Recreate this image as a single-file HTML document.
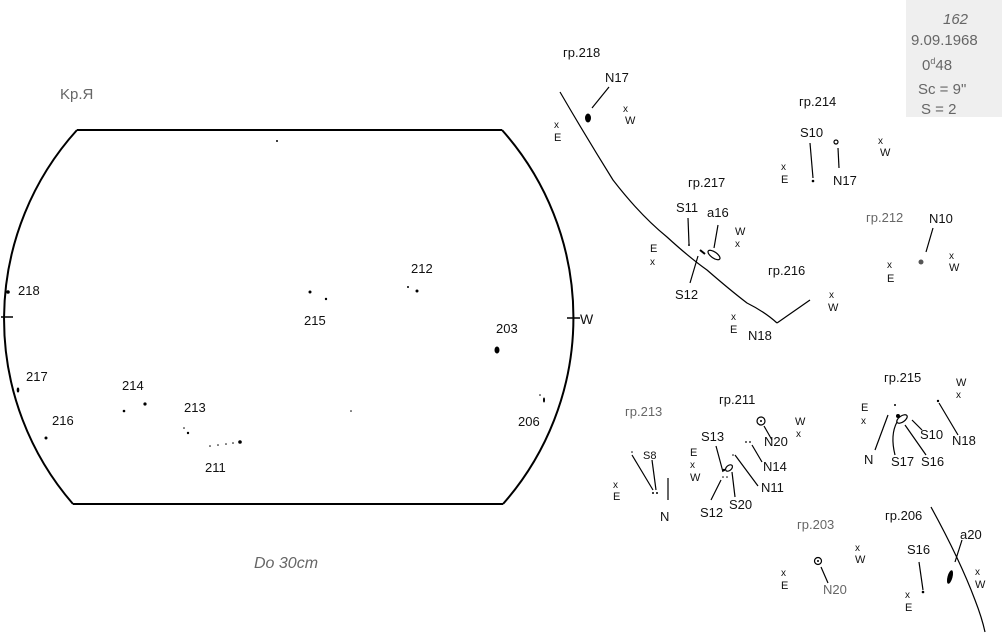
<!DOCTYPE html>
<html><head><meta charset="utf-8"><style>
html,body{margin:0;padding:0;background:#fff;}
svg{display:block;}
text{font-family:"Liberation Sans",sans-serif;fill:#111;}
.s{font-size:13px;}
.g{fill:#666;}
</style></head><body>
<svg width="1002" height="635" viewBox="0 0 1002 635" xmlns="http://www.w3.org/2000/svg">
<rect x="906" y="0" width="96" height="117" fill="#efefef"/>
<g font-size="15" class="g">
<text x="943" y="24" class="g" font-style="italic">162</text>
<text x="911" y="45" class="g">9.09.1968</text>
<text x="922" y="70" class="g">0<tspan font-size="9" dy="-6">d</tspan><tspan dy="6">48</tspan></text>
<text x="918" y="94" class="g">Sc = 9"</text>
<text x="921" y="114" class="g">S  = 2</text>
</g>
<text x="60" y="99" font-size="15" class="g">Kp.Я</text>
<text x="254" y="568" font-size="16" class="g" font-style="italic">Do  30cm</text>

<g fill="none" stroke="#000" stroke-width="2">
<path d="M77 130 L502 130"/>
<path d="M73 504 L503 504"/>
<path d="M77 130 A 282 282 0 0 0 73 504"/>
<path d="M502 130 A 282 282 0 0 1 503 504"/>
</g>
<g stroke="#000" stroke-width="1.5">
<line x1="1" y1="317" x2="13" y2="317"/>
<line x1="567" y1="318" x2="580" y2="318"/>
</g>
<text x="580" y="324" font-size="14">W</text>
<g class="s" font-size="13">
<text x="18" y="295">218</text><text x="26" y="381">217</text><text x="52" y="425">216</text>
<text x="122" y="390">214</text><text x="184" y="412">213</text><text x="205" y="472">211</text>
<text x="304" y="325">215</text><text x="411" y="273">212</text><text x="496" y="333">203</text>
<text x="518" y="426">206</text>
</g>
<g fill="#000">
<circle cx="8" cy="292" r="1.8"/><ellipse cx="18" cy="390" rx="1.3" ry="2.5"/><circle cx="46" cy="438" r="1.5"/>
<circle cx="124" cy="411" r="1.3"/><circle cx="145" cy="404" r="1.6"/>
<circle cx="184" cy="428" r="0.8"/><circle cx="188" cy="433" r="1.2"/>
<circle cx="240" cy="442" r="1.8"/><circle cx="210" cy="446" r="0.8"/><circle cx="218" cy="445" r="0.8"/><circle cx="226" cy="444" r="0.8"/><circle cx="233" cy="443" r="0.8"/>
<circle cx="310" cy="292" r="1.5"/><circle cx="326" cy="299" r="1.2"/><circle cx="408" cy="287" r="1"/><circle cx="417" cy="291" r="1.5"/>
<ellipse cx="497" cy="350" rx="2.5" ry="3.5"/><circle cx="540" cy="395" r="0.8"/><ellipse cx="544" cy="400" rx="1" ry="2.5"/><circle cx="277" cy="141" r="1"/><circle cx="351" cy="411" r="0.8"/>
</g>

<g stroke="#000" stroke-width="1.2" fill="none">
<path d="M560 92 Q585 135 613 180 Q640 215 667 237 Q690 258 707 270 Q730 290 747 303 Q765 312 777 323"/>
<line x1="777" y1="323" x2="810" y2="300"/>
<line x1="609" y1="87" x2="592" y2="108"/>
<line x1="688" y1="218" x2="689" y2="244"/>
<line x1="718" y1="225" x2="714" y2="248"/>
<line x1="698" y1="256" x2="690" y2="283"/>
<ellipse cx="714" cy="255" rx="7" ry="3" transform="rotate(35 714 255)"/>
<line x1="810" y1="143" x2="813" y2="178"/>
<circle cx="836" cy="142" r="2"/>
<line x1="838" y1="148" x2="839" y2="168"/>
<line x1="933" y1="228" x2="926" y2="252"/>
<line x1="632" y1="455" x2="653" y2="490"/>
<line x1="652" y1="460" x2="656" y2="490"/>
<line x1="668" y1="478" x2="668" y2="500"/>
<line x1="716" y1="446" x2="723" y2="472"/>
<ellipse cx="729" cy="468" rx="4" ry="2.5" transform="rotate(-40 729 468)"/>
<circle cx="761" cy="421" r="4"/>
<line x1="764" y1="426" x2="772" y2="440"/>
<line x1="752" y1="445" x2="762" y2="462"/>
<line x1="735" y1="455" x2="758" y2="486"/>
<line x1="721" y1="480" x2="711" y2="500"/>
<line x1="732" y1="472" x2="735" y2="497"/>
<line x1="888" y1="415" x2="875" y2="450"/>
<line x1="912" y1="420" x2="922" y2="430"/>
<line x1="939" y1="403" x2="958" y2="435"/>
<path d="M897 422 Q890 435 895 455"/>
<line x1="905" y1="425" x2="926" y2="455"/>
<ellipse cx="902" cy="419" rx="6" ry="3" transform="rotate(-35 902 419)"/>
<circle cx="818" cy="561" r="3.5"/>
<line x1="821" y1="567" x2="828" y2="583"/>
<path d="M931 507 Q960 560 975 600 Q982 618 985 632"/>
<line x1="962" y1="540" x2="955" y2="562"/>
<line x1="919" y1="562" x2="923" y2="590"/>
</g>
<g fill="#000">
<ellipse cx="588" cy="118" rx="3" ry="4.5"/>
<circle cx="813" cy="181" r="1.3"/>
<circle cx="921" cy="262" r="2.5" fill="#555"/>
<circle cx="689" cy="245" r="1"/><line x1="700" y1="250" x2="705" y2="254" stroke="#000" stroke-width="2"/>
<circle cx="653" cy="493" r="1"/><circle cx="657" cy="493" r="1"/><circle cx="632" cy="452" r="0.8"/>
<circle cx="724" cy="470" r="1.2"/><circle cx="723" cy="477" r="0.8"/><circle cx="727" cy="477" r="0.8"/>
<circle cx="761" cy="421" r="1"/><circle cx="746" cy="442" r="0.9"/><circle cx="750" cy="442" r="0.9"/><circle cx="733" cy="455" r="0.8"/>
<circle cx="895" cy="405" r="1"/><circle cx="898" cy="416" r="2"/><circle cx="938" cy="401" r="1.2"/>
<circle cx="818" cy="561" r="1"/>
<ellipse cx="950" cy="577" rx="2.5" ry="7" transform="rotate(15 950 577)"/>
<circle cx="923" cy="592" r="1.3"/>
</g>

<g font-size="13">
<text x="563" y="57">гр.218</text><text x="605" y="82">N17</text>
<text x="623" y="112" font-size="10">x</text><text x="625" y="124" font-size="11">W</text>
<text x="554" y="128" font-size="10">x</text><text x="554" y="141" font-size="11">E</text>
<text x="688" y="187">гр.217</text><text x="676" y="212">S11</text><text x="707" y="217">a16</text>
<text x="675" y="299">S12</text>
<text x="650" y="252" font-size="11">E</text><text x="650" y="265" font-size="10">x</text>
<text x="735" y="235" font-size="11">W</text><text x="735" y="247" font-size="10">x</text>
<text x="768" y="275">гр.216</text><text x="748" y="340">N18</text>
<text x="731" y="320" font-size="10">x</text><text x="730" y="333" font-size="11">E</text>
<text x="829" y="298" font-size="10">x</text><text x="828" y="311" font-size="11">W</text>
<text x="799" y="106">гр.214</text><text x="800" y="137">S10</text><text x="833" y="185">N17</text>
<text x="781" y="170" font-size="10">x</text><text x="781" y="183" font-size="11">E</text>
<text x="878" y="144" font-size="10">x</text><text x="880" y="156" font-size="11">W</text>
<text x="866" y="222" class="g">гр.212</text><text x="929" y="223">N10</text>
<text x="887" y="268" font-size="10">x</text><text x="887" y="282" font-size="11">E</text>
<text x="949" y="259" font-size="10">x</text><text x="949" y="271" font-size="11">W</text>
<text x="625" y="416" class="g">гр.213</text><text x="643" y="459" font-size="11">S8</text><text x="660" y="521">N</text>
<text x="613" y="488" font-size="10">x</text><text x="613" y="500" font-size="11">E</text>
<text x="719" y="404">гр.211</text><text x="701" y="441">S13</text><text x="764" y="446">N20</text>
<text x="763" y="471">N14</text><text x="761" y="492">N11</text><text x="700" y="517">S12</text><text x="729" y="509">S20</text>
<text x="690" y="456" font-size="11">E</text><text x="690" y="468" font-size="10">x</text><text x="690" y="481" font-size="11">W</text>
<text x="795" y="425" font-size="11">W</text><text x="796" y="437" font-size="10">x</text>
<text x="884" y="382">гр.215</text>
<text x="956" y="386" font-size="11">W</text><text x="956" y="398" font-size="10">x</text>
<text x="861" y="411" font-size="11">E</text><text x="861" y="424" font-size="10">x</text>
<text x="864" y="464">N</text><text x="920" y="439">S10</text><text x="952" y="445">N18</text>
<text x="891" y="466">S17</text><text x="921" y="466">S16</text>
<text x="797" y="529" class="g">гр.203</text><text x="823" y="594" class="g">N20</text>
<text x="781" y="576" font-size="10">x</text><text x="781" y="589" font-size="11">E</text>
<text x="855" y="551" font-size="10">x</text><text x="855" y="563" font-size="11">W</text>
<text x="885" y="520">гр.206</text><text x="960" y="539">a20</text><text x="907" y="554">S16</text>
<text x="905" y="598" font-size="10">x</text><text x="905" y="611" font-size="11">E</text>
<text x="975" y="575" font-size="10">x</text><text x="975" y="588" font-size="11">W</text>
</g>
</svg>
</body></html>
